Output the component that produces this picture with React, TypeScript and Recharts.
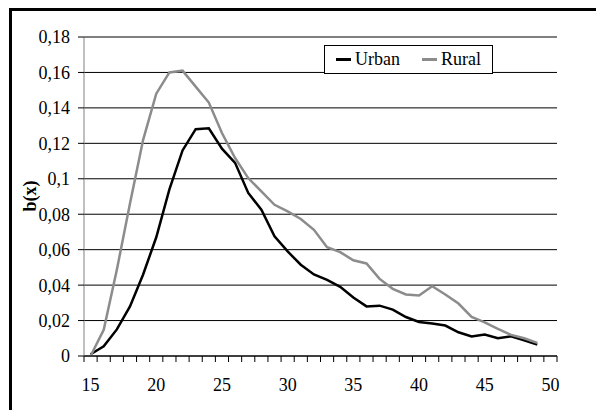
import React from 'react';
import { LineChart, Line, XAxis, YAxis, CartesianGrid } from 'recharts';

const ages = [15,16,17,18,19,20,21,22,23,24,25,26,27,28,29,30,31,32,33,34,35,36,37,38,39,40,41,42,43,44,45,46,47,48,49];
const urban = [0.001,0.0055,0.015,0.028,0.046,0.067,0.094,0.116,0.128,0.1285,0.117,0.109,0.092,0.0825,0.0675,0.059,0.0515,0.046,0.043,0.039,0.033,0.028,0.0284,0.0262,0.022,0.0192,0.0183,0.0172,0.0134,0.011,0.0121,0.010,0.0111,0.0089,0.0064];
const rural = [0,0.0148,0.0487,0.086,0.122,0.148,0.160,0.161,0.152,0.143,0.1258,0.1117,0.1004,0.0929,0.0853,0.0816,0.0773,0.0712,0.0614,0.0586,0.054,0.0522,0.0435,0.0379,0.0347,0.0341,0.0394,0.0347,0.0296,0.0221,0.019,0.0153,0.0119,0.010,0.0074];
const xLabels = [15,20,25,30,35,40,45,50];
const yTicks = [0,0.02,0.04,0.06,0.08,0.1,0.12,0.14,0.16,0.18];
const seriesNames = ['Urban', 'Rural'];
const seriesKeys = ['urban', 'rural'];
const seriesColors = ['#000000', '#8c8c8c'];

const data = ages.map((a, i) => ({ age: a, urban: urban[i], rural: rural[i] }));
// category boundaries (Excel-style tick marks between categories)
const boundaries = Array.from({ length: 37 }, (_, i) => 14.5 + i);

const W = 604;
const H = 410;
const Y_AXIS_W = 84;
const M = { top: 37, right: 47, bottom: 0, left: 0 };
const PLOT_W = W - Y_AXIS_W - M.left - M.right;
const HALF_BAND = PLOT_W / (boundaries.length - 1) / 2;
const FONT = 'Liberation Serif';

const fmt = (v: number) => String(Number(v.toFixed(2))).replace('.', ',');

const renderXTick = (props: any) => {
  const { x, y, payload } = props;
  const center = payload.value + 0.5;
  if (!xLabels.includes(center)) return <g />;
  return (
    <text x={x + HALF_BAND} y={y} dy="0.71em" textAnchor="middle" fill="#000" fontFamily={FONT} fontSize={18}>
      {center}
    </text>
  );
};

export default function App() {
  return (
    <div style={{ position: 'relative', marginLeft: -8, marginTop: -8, width: W, height: H, overflow: 'hidden', background: '#fff' }}>
      <div style={{ position: 'absolute', left: 9, top: 8, width: 700, height: 500, border: '3px solid #000' }} />
      <div style={{ position: 'absolute', left: 0, top: 0 }}>
        <LineChart width={W} height={H} data={data} margin={M}>
          <CartesianGrid horizontal vertical={false} stroke="#000" strokeWidth={1} />
          <XAxis
            dataKey="age"
            type="number"
            domain={[14.5, 50.5]}
            ticks={boundaries}
            interval={0}
            height={54}
            tickSize={6}
            tickMargin={16}
            axisLine={{ stroke: '#000', strokeWidth: 1 }}
            tickLine={{ stroke: '#000' }}
            tick={renderXTick}
          />
          <YAxis
            type="number"
            domain={[0, 0.18]}
            ticks={yTicks}
            width={Y_AXIS_W}
            tickSize={6}
            tickMargin={8}
            tickFormatter={fmt}
            axisLine={{ stroke: '#808080', strokeWidth: 1 }}
            tickLine={{ stroke: '#000' }}
            tick={{ fill: '#000', fontSize: 18, fontFamily: FONT }}
          />
          {seriesKeys.map((k, i) => (
            <Line key={k} type="linear" dataKey={k} name={seriesNames[i]} stroke={seriesColors[i]} strokeWidth={2.5} dot={false} isAnimationActive={false} />
          ))}
        </LineChart>
      </div>
      <div style={{ position: 'absolute', left: 14, top: 196, width: 32, height: 0 }}>
        <div style={{ position: 'absolute', left: 0, top: -12, width: 60, height: 24, lineHeight: '24px', textAlign: 'center', transform: 'translateX(-14px) rotate(-90deg)', fontFamily: FONT, fontSize: 18, fontWeight: 'bold', color: '#000' }}>
          b(x)
        </div>
      </div>
      <div style={{ position: 'absolute', left: 324, top: 45, width: 167, height: 27, border: '1px solid #000', background: '#fff', display: 'flex', alignItems: 'center', fontFamily: FONT, fontSize: 18, color: '#000' }}>
        {seriesNames.map((n, i) => (
          <div key={n} style={{ display: 'flex', alignItems: 'center', marginLeft: i === 0 ? 11 : 22 }}>
            <span style={{ display: 'inline-block', width: 15, height: 3, background: seriesColors[i], marginRight: 4 }} />
            <span>{n}</span>
          </div>
        ))}
      </div>
    </div>
  );
}
